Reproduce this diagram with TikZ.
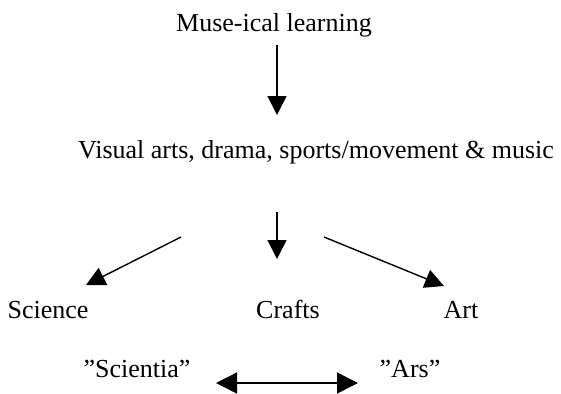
\documentclass[tikz,border=0pt]{standalone}
\usepackage{fontspec}
\setmainfont{Liberation Serif}
\usetikzlibrary{arrows.meta}

\begin{document}
\begin{tikzpicture}[x=0.5pt, y=-0.5pt,
    label/.style={anchor=base, inner sep=0pt, font=\fontsize{13}{15}\selectfont},
    flow/.style={line width=0.7pt, -{Triangle[length=9.5pt,width=9.5pt]}},
    both/.style={line width=0.7pt, {Triangle[length=10.5pt,width=10.5pt]}-{Triangle[length=10.5pt,width=10.5pt]}}]
    \useasboundingbox (0,0) rectangle (561,393);
    % Draw the labels
    \node[label] (muse) at (274,31) {Muse-ical learning};
    \node[label] (visual) at (316,158) {Visual arts, drama, sports/movement \& music};
    \node[label] (science) at (48,318) {Science};
    \node[label] (crafts) at (288,318) {Crafts};
    \node[label] (art) at (461,318) {Art};
    \node[label] (scientia) at (137,377) {”Scientia”};
    \node[label] (ars) at (410,377) {”Ars”};
    % Arrow ends
    \coordinate (muse-out) at (277,45);
    \coordinate (visual-in) at (277,115);
    \coordinate (mid-out) at (277,212);
    \coordinate (crafts-in) at (277,259);
    \coordinate (left-out) at (181,237);
    \coordinate (science-in) at (86,285);
    \coordinate (right-out) at (324,237);
    \coordinate (art-in) at (444,286);
    \coordinate (scientia-end) at (216,383);
    \coordinate (ars-end) at (358,383);
    % Draw the arrows
    \draw[flow] (muse-out) -- (visual-in);
    \draw[flow] (mid-out) -- (crafts-in);
    \draw[flow] (left-out) -- (science-in);
    \draw[flow] (right-out) -- (art-in);
    \draw[both] (scientia-end) -- (ars-end);
\end{tikzpicture}
\end{document}
